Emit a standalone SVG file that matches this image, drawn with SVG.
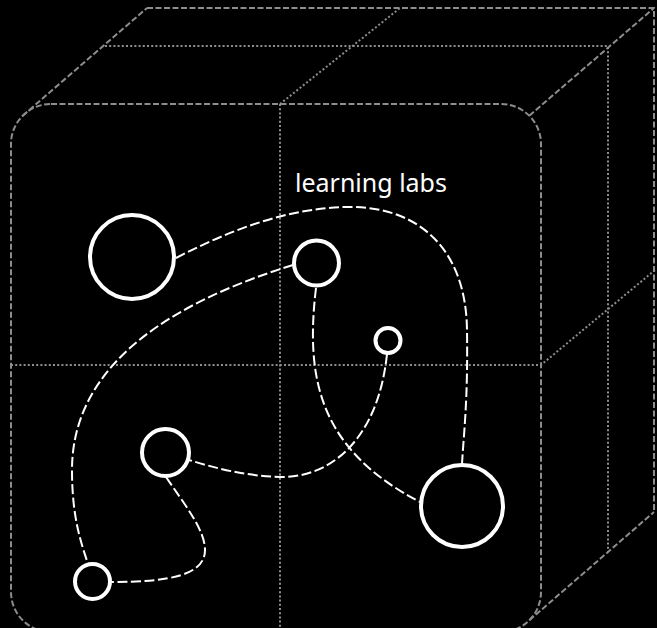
<svg xmlns="http://www.w3.org/2000/svg" width="657" height="628" viewBox="0 0 657 628">
<style>
.dash{fill:none;stroke:#8d8d8d;stroke-width:2;stroke-dasharray:6 2.5}
.dot{fill:none;stroke:#8d8d8d;stroke-width:2;stroke-dasharray:2 2.2}
.node{fill:none;stroke:#ffffff;stroke-width:4}
.edge{fill:none;stroke:#ffffff;stroke-width:2;stroke-dasharray:10 3.5}
.label{font-family:"Noto Sans","Open Sans",sans-serif;font-size:25px;fill:#ffffff}
</style>
<rect width="657" height="628" fill="#000000"/>
<g id="cube">
<path class="dot" d="M105,46 H608 V552"/>
<path class="dot" d="M280,104 L400,8"/>
<path class="dot" d="M280,104 V632"/>
<path class="dot" d="M11,365 H541 L655,270"/>
<path class="dash" d="M147,8 H654 V512"/>
<path class="dash" d="M22.7,115.7 L147,8"/>
<path class="dash" d="M529.3,115.7 L654,8"/>
<path class="dash" d="M529.3,620.3 L654,512"/>
<rect class="dash" x="11" y="104" width="530" height="528" rx="40" ry="40"/>
</g>
<g id="connectors">
<path class="edge" d="M176,258 C230,230 290,207 350,207 C420,207 466,250 467,330 C468,400 464,430 462,464"/>
<path class="edge" d="M293,265 C180,300 72,360 72,470 C72,520 82,545 88,564"/>
<path class="edge" d="M316,288 C305,380 320,450 420,502"/>
<path class="edge" d="M387,354 C378,440 330,478 280,477 C245,476 215,468 189,460"/>
<path class="edge" d="M166,477 C185,505 205,530 205,550 C205,575 170,582 112,582"/>
</g>
<g id="label"><text class="label" x="295" y="192">learning labs</text></g>
<g id="n1"><circle class="node" cx="132" cy="257" r="42"/></g>
<g id="n2"><circle class="node" cx="316.5" cy="263" r="22.5"/></g>
<g id="n3"><circle class="node" cx="388" cy="340.5" r="12.5"/></g>
<g id="n4"><circle class="node" cx="165.5" cy="452.5" r="23.5"/></g>
<g id="n5"><circle class="node" cx="92.5" cy="581.5" r="17.5"/></g>
<g id="n6"><circle class="node" cx="462" cy="506" r="41"/></g>
</svg>
